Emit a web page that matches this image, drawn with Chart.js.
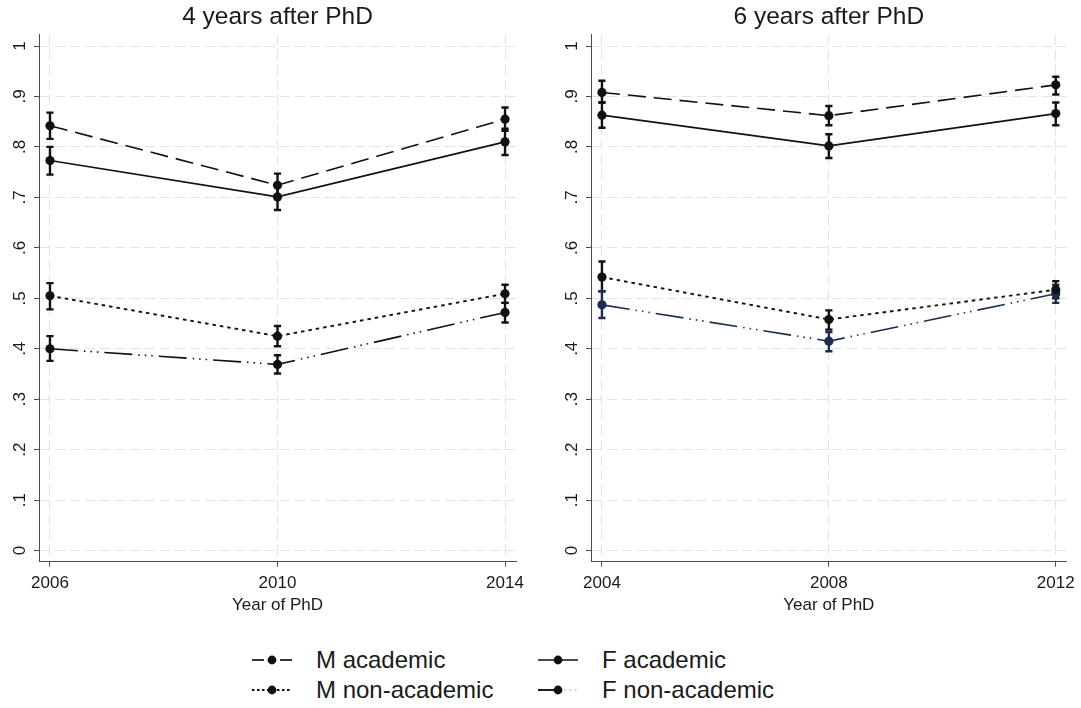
<!DOCTYPE html>
<html>
<head>
<meta charset="utf-8">
<script src="https://cdn.jsdelivr.net/npm/chart.js@4.4.1/dist/chart.umd.min.js"></script>
<style>
html,body{margin:0;padding:0;background:#fff;}
#wrap{position:relative;width:1081px;height:708px;overflow:hidden;background:#fff;font-family:"Liberation Sans",Arial,sans-serif;}
canvas{position:absolute;top:0;}
#c1{left:0;}
#c2{left:540px;}
.leg{position:absolute;font-size:24px;line-height:28px;color:#1a1a1a;display:flex;align-items:center;white-space:nowrap;}
.leg svg{margin-right:24px;display:block;}
</style>
</head>
<body>
<div id="wrap">
<canvas id="c1" width="540" height="625"></canvas>
<canvas id="c2" width="541" height="625"></canvas>
<div id="legend"></div>
</div>
<script>
// ---- data ----
const panelTitles = ["4 years after PhD", "6 years after PhD"];
const xAxisTitle = "Year of PhD";
const seriesNames = ["M academic", "F academic", "M non-academic", "F non-academic"];

const years4 = [2006, 2010, 2014];
const mAcad4 = [0.842, 0.724, 0.855];
const mAcad4Lo = [0.816, 0.701, 0.832];
const mAcad4Hi = [0.868, 0.747, 0.878];
const fAcad4 = [0.773, 0.701, 0.810];
const fAcad4Lo = [0.745, 0.675, 0.784];
const fAcad4Hi = [0.800, 0.727, 0.836];
const mNon4 = [0.505, 0.425, 0.509];
const mNon4Lo = [0.478, 0.405, 0.491];
const mNon4Hi = [0.530, 0.445, 0.527];
const fNon4 = [0.400, 0.369, 0.472];
const fNon4Lo = [0.376, 0.351, 0.452];
const fNon4Hi = [0.425, 0.387, 0.491];

const years6 = [2004, 2008, 2012];
const mAcad6 = [0.908, 0.862, 0.923];
const mAcad6Lo = [0.888, 0.843, 0.904];
const mAcad6Hi = [0.931, 0.881, 0.939];
const fAcad6 = [0.863, 0.802, 0.866];
const fAcad6Lo = [0.838, 0.778, 0.843];
const fAcad6Hi = [0.888, 0.825, 0.888];
const mNon6 = [0.542, 0.458, 0.517];
const mNon6Lo = [0.514, 0.438, 0.500];
const mNon6Hi = [0.573, 0.476, 0.534];
const fNon6 = [0.487, 0.415, 0.509];
const fNon6Lo = [0.461, 0.395, 0.491];
const fNon6Hi = [0.514, 0.433, 0.527];

const yTickValues = [0, 0.1, 0.2, 0.3, 0.4, 0.5, 0.6, 0.7, 0.8, 0.9, 1];
const yTickLabels = ["0", ".1", ".2", ".3", ".4", ".5", ".6", ".7", ".8", ".9", "1"];

// ---- styles ----
const FONT = '"Liberation Sans", Arial, sans-serif';
const TEXT = '#1a1a1a';
const AXIS = '#4d4d4d';
const GRID = '#e3e3e3';
const styles = [
  {dash: [18, 8], width: 1.6},
  {dash: [], width: 1.6},
  {dash: [3.5, 4], width: 1.9},
  {dash: [28, 6, 1.5, 5, 1.5, 5, 1.5, 6], width: 1.6}
];

const errorBars = {
  id: 'errorBars',
  beforeDatasetsDraw(chart) {
    const ctx = chart.ctx, xs = chart.scales.x, ys = chart.scales.y;
    chart.data.datasets.forEach(ds => {
      ctx.save();
      ctx.strokeStyle = ds.borderColor;
      ctx.lineWidth = 2.4;
      ctx.setLineDash([]);
      ds.data.forEach((p, j) => {
        const x = xs.getPixelForValue(p.x);
        const y1 = ys.getPixelForValue(ds.lo[j]);
        const y2 = ys.getPixelForValue(ds.hi[j]);
        ctx.beginPath();
        ctx.moveTo(x, y1); ctx.lineTo(x, y2);
        ctx.moveTo(x - 3.6, y1); ctx.lineTo(x + 3.6, y1);
        ctx.moveTo(x - 3.6, y2); ctx.lineTo(x + 3.6, y2);
        ctx.stroke();
      });
      ctx.restore();
    });
  }
};

function makeDatasets(years, series, colors) {
  return series.map((s, i) => ({
    label: seriesNames[i],
    data: years.map((yr, j) => ({x: yr, y: s.v[j]})),
    lo: s.lo, hi: s.hi,
    borderColor: colors[i],
    backgroundColor: colors[i],
    borderWidth: styles[i].width,
    borderDash: styles[i].dash,
    pointRadius: 4.6,
    pointBorderWidth: 0,
    pointBackgroundColor: colors[i],
    tension: 0,
    fill: false
  }));
}

function makeChart(id, title, years, series, colors, padL, padR) {
  const xPad = 0.193;
  return new Chart(document.getElementById(id), {
    type: 'line',
    data: {datasets: makeDatasets(years, series, colors)},
    plugins: [errorBars],
    options: {
      responsive: false,
      animation: false,
      devicePixelRatio: 1,
      layout: {padding: {left: padL, right: padR, top: 0, bottom: 0}},
      plugins: {
        legend: {display: false},
        tooltip: {enabled: false},
        title: {
          display: true, text: title, fullSize: false, color: TEXT,
          font: {family: FONT, size: 24.5, weight: 'normal'},
          padding: {top: 3, bottom: 2.5}
        }
      },
      scales: {
        x: {
          type: 'linear', bounds: 'data',
          min: years[0] - xPad, max: years[years.length - 1] + xPad,
          afterBuildTicks: s => { s.ticks = years.map(v => ({value: v})); },
          afterFit: s => { s.height = 63.3; },
          ticks: {
            callback: (v, i) => String(years[i]),
            color: TEXT, font: {family: FONT, size: 17}, padding: 6,
            maxRotation: 0, minRotation: 0
          },
          grid: {color: GRID, lineWidth: 1, tickLength: 5, tickColor: AXIS, tickWidth: 1, tickBorderDash: []},
          border: {display: true, color: AXIS, width: 1, dash: [10, 5]},
          title: {
            display: true, text: xAxisTitle, color: TEXT,
            font: {family: FONT, size: 17},
            padding: {top: 0, bottom: 9}
          }
        },
        y: {
          type: 'linear', bounds: 'data', min: -0.022, max: 1.022,
          afterBuildTicks: s => { s.ticks = yTickValues.map(v => ({value: v})); },
          afterFit: s => { s.width = 39; },
          ticks: {
            callback: (v, i) => yTickLabels[i],
            color: TEXT, font: {family: FONT, size: 17},
            minRotation: 90, maxRotation: 90, crossAlign: 'center', padding: 7
          },
          grid: {color: GRID, lineWidth: 1, tickLength: 5, tickColor: AXIS, tickWidth: 1, tickBorderDash: []},
          border: {display: true, color: AXIS, width: 1, dash: [10, 5]}
        }
      }
    }
  });
}

const black4 = ['#111', '#111', '#111', '#111'];
const colors6 = ['#111', '#111', '#111', '#1c2d50'];

makeChart('c1', panelTitles[0], years4, [
  {v: mAcad4, lo: mAcad4Lo, hi: mAcad4Hi},
  {v: fAcad4, lo: fAcad4Lo, hi: fAcad4Hi},
  {v: mNon4, lo: mNon4Lo, hi: mNon4Hi},
  {v: fNon4, lo: fNon4Lo, hi: fNon4Hi}
], black4, 0, 24);

makeChart('c2', panelTitles[1], years6, [
  {v: mAcad6, lo: mAcad6Lo, hi: mAcad6Hi},
  {v: fAcad6, lo: fAcad6Lo, hi: fAcad6Hi},
  {v: mNon6, lo: mNon6Lo, hi: mNon6Hi},
  {v: fNon6, lo: fNon6Lo, hi: fNon6Hi}
], colors6, 12, 13);

// ---- legend (HTML, two columns) ----
const symbols = [
  '<line x1="0" y1="12" x2="12" y2="12" stroke="#111" stroke-width="1.7"/><line x1="28" y1="12" x2="40" y2="12" stroke="#111" stroke-width="1.7"/>',
  '<line x1="0" y1="12" x2="40" y2="12" stroke="#111" stroke-width="1.7"/>',
  '<line x1="0" y1="12" x2="40" y2="12" stroke="#111" stroke-width="1.8" stroke-dasharray="2.5 2.5"/>',
  '<line x1="0" y1="12" x2="20" y2="12" stroke="#111" stroke-width="1.9"/><line x1="26" y1="12" x2="40" y2="12" stroke="#bbb" stroke-width="1.4" stroke-dasharray="1.5 4"/>'
];
const legPos = [[252, 646], [538, 646], [252, 676], [538, 676]];
const legend = document.getElementById('legend');
seriesNames.forEach((name, i) => {
  const d = document.createElement('div');
  d.className = 'leg';
  d.style.left = legPos[i][0] + 'px';
  d.style.top = legPos[i][1] + 'px';
  d.innerHTML = '<svg width="40" height="24" viewBox="0 0 40 24">' + symbols[i] +
    '<circle cx="20" cy="12" r="4.4" fill="#111"/></svg><span>' + name + '</span>';
  legend.appendChild(d);
});
</script>
</body>
</html>
